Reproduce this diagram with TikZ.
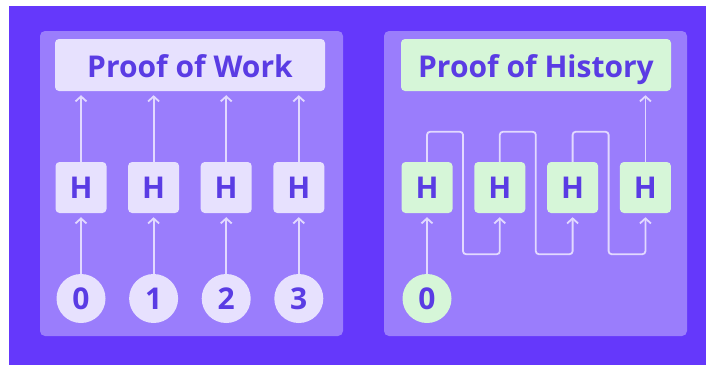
\documentclass[tikz,border=0pt]{standalone}
\usepackage{fontspec}
\setmainfont{Open Sans}
\usepackage{xcolor}
\usepackage{tikz}
\usetikzlibrary{arrows.meta,positioning,calc}
\definecolor{bgviolet}{HTML}{6538FB}
\definecolor{panelviolet}{HTML}{9A7DFC}
\definecolor{boxlav}{HTML}{E7E1FE}
\definecolor{boxgreen}{HTML}{D6F6D8}
\definecolor{inkviolet}{HTML}{5A3CE4}
\definecolor{wirelav}{HTML}{E2D9FF}

\begin{document}
\begin{tikzpicture}[x=1pt, y=-1pt,
    panel/.style={fill=panelviolet, rounded corners=5pt},
    titlebox/.style={rounded corners=4pt, minimum width=270pt, minimum height=52pt,
      text height=25pt, text depth=1pt,
      text=inkviolet, font=\fontsize{30}{32}\selectfont\bfseries},
    hbox/.style={rounded corners=4pt, minimum size=51pt, inner sep=0pt,
      text=inkviolet, font=\fontsize{30}{32}\selectfont\bfseries},
    numdot/.style={circle, minimum size=49pt, inner sep=0pt,
      text=inkviolet, font=\fontsize{30}{32}\selectfont\bfseries},
    wire/.style={draw=wirelav, line width=1.8pt, rounded corners=3pt,
      -{Straight Barb[length=5pt, width=11pt, line width=1.8pt]}, shorten >=4pt}]
  % Canvas
  \useasboundingbox (0,0) rectangle (706,365);
  \fill[bgviolet] (9,6) rectangle (706,365);
  \fill[panel] (40,31) rectangle (343,336);
  \fill[panel] (384,31) rectangle (687,336);

  % Proof of Work: every input hashed on its own
  \node[titlebox, fill=boxlav] (pow) at (190,65) {Proof of Work};
  \foreach \i in {0,1,2,3} {
    \node[hbox, fill=boxlav] (hw\i) at (81+72.6*\i,187.5) {H};
    \node[numdot, fill=boxlav] (nw\i) at (81+72.6*\i,298.5) {\i};
    \draw[wire] (nw\i.north) -- (hw\i.south);
    \draw[wire] (hw\i.north) -- (hw\i.north |- pow.south);
  }

  % Proof of History: each hash feeds the next one
  \node[titlebox, fill=boxgreen] (poh) at (536,65) {Proof of History};
  \foreach \i in {1,2,3,4}
    \node[hbox, fill=boxgreen] (hh\i) at (427+72.8*\i-72.8,187.5) {H};
  \node[numdot, fill=boxgreen] (nh0) at (hh1 |- nw0) {0};
  \draw[wire] (nh0.north) -- (hh1.south);
  \foreach \a/\b in {1/2,2/3,3/4}
    \draw[wire] (hh\a.north) |- ++(36,-30) |- ([yshift=-41pt]hh\b.south) -- (hh\b.south);
  \draw[wire] (hh4.north) -- (hh4.north |- poh.south);
\end{tikzpicture}
\end{document}
